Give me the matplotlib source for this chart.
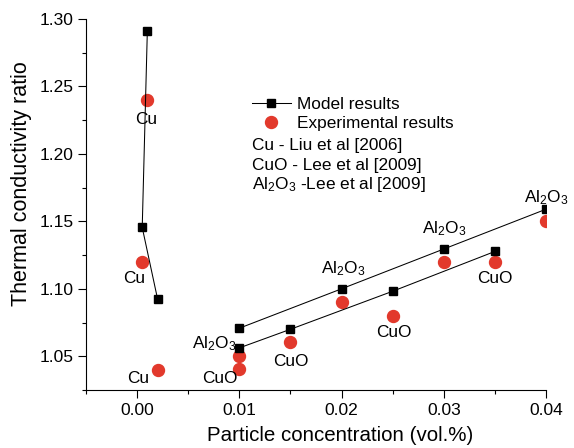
import matplotlib
matplotlib.use("Agg")
import matplotlib.pyplot as plt
from matplotlib.ticker import MultipleLocator, FormatStrFormatter

plt.rcParams['font.family'] = ['Liberation Sans', 'DejaVu Sans']
plt.rcParams['mathtext.fontset'] = 'custom'
plt.rcParams['mathtext.rm'] = 'Liberation Sans'
plt.rcParams['mathtext.it'] = 'Liberation Sans:italic'

# Model results
cu_model_x = [0.001, 0.0005, 0.002]
cu_model_y = [1.291, 1.1455, 1.0925]
al_model_x = [0.01, 0.02, 0.03, 0.04]
al_model_y = [1.0708, 1.100, 1.1295, 1.159]
cuo_model_x = [0.01, 0.015, 0.025, 0.035]
cuo_model_y = [1.0562, 1.070, 1.0982, 1.1277]

# Experimental results
cu_exp_x = [0.001, 0.0005, 0.002]
cu_exp_y = [1.24, 1.12, 1.04]
al_exp_x = [0.01, 0.02, 0.03, 0.04]
al_exp_y = [1.05, 1.09, 1.12, 1.15]
cuo_exp_x = [0.01, 0.015, 0.025, 0.035]
cuo_exp_y = [1.0404, 1.0604, 1.080, 1.12]

AL = r'Al$_2$O$_3$'
labels = [
    # (text, x, y, dx_px, dy_px)  baseline offsets in pixels
    ('Cu', cu_exp_x[0], cu_exp_y[0], -1, -24),
    ('Cu', cu_exp_x[1], cu_exp_y[1], -8, -21),
    ('Cu', cu_exp_x[2], cu_exp_y[2], -19, -13),
    (AL, cuo_model_x[0], cuo_model_y[0], -25, 0),
    ('CuO', cuo_exp_x[0], cuo_exp_y[0], -19, -14),
    ('CuO', cuo_exp_x[1], cuo_exp_y[1], 0, -24),
    (AL, al_model_x[1], al_model_y[1], 2, 16),
    ('CuO', cuo_exp_x[2], cuo_exp_y[2], 1, -21),
    (AL, al_model_x[2], al_model_y[2], 0, 16),
    ('CuO', cuo_exp_x[3], cuo_exp_y[3], 0, -21),
    (AL, al_model_x[3], al_model_y[3], 0, 7),
]

red = '#e2392c'
FS = 12.4
fig = plt.figure(figsize=(5.74, 4.48), dpi=100)
ax = fig.add_axes([86/574, 1-390/448, (546-86)/574, (390-19)/448])

line_kw = dict(color='black', lw=0.75, marker='s', markersize=5.2,
               markerfacecolor='black', markeredgecolor='black')
h_model, = ax.plot(cu_model_x, cu_model_y, **line_kw, zorder=3)
ax.plot(al_model_x, al_model_y, **line_kw, zorder=3)
ax.plot(cuo_model_x, cuo_model_y, **line_kw, zorder=3)

pt_kw = dict(linestyle='none', marker='o', markersize=8.6, color=red,
             markeredgecolor=red)
h_exp, = ax.plot(cu_exp_x, cu_exp_y, **pt_kw, zorder=2)
ax.plot(al_exp_x, al_exp_y, **pt_kw, zorder=2)
ax.plot(cuo_exp_x, cuo_exp_y, **pt_kw, zorder=2)

for t, x, y, dx, dy in labels:
    ax.annotate(t, xy=(x, y), xytext=(dx*0.72, dy*0.72),
                textcoords='offset points', ha='center', va='baseline',
                fontsize=FS, annotation_clip=False)

ax.set_xlim(-0.005, 0.04)
ax.set_ylim(1.025, 1.30)
ax.xaxis.set_major_locator(MultipleLocator(0.01))
ax.xaxis.set_minor_locator(MultipleLocator(0.005))
ax.yaxis.set_major_locator(MultipleLocator(0.05))
ax.yaxis.set_minor_locator(MultipleLocator(0.025))
ax.xaxis.set_major_formatter(FormatStrFormatter('%.2f'))
ax.yaxis.set_major_formatter(FormatStrFormatter('%.2f'))
ax.spines['top'].set_visible(False)
ax.spines['right'].set_visible(False)
ax.tick_params(which='major', direction='out', length=5.5, width=0.8,
               labelsize=12.5, pad=3.5)
ax.tick_params(which='minor', direction='out', length=3, width=0.8)
ax.set_xlabel('Particle concentration (vol.%)', fontsize=14.8)
ax.set_ylabel('Thermal conductivity ratio', fontsize=15.5)
ax.xaxis.set_label_coords(0.552, -0.097)
ax.yaxis.set_label_coords(-0.117, 0.555)

leg = ax.legend([h_model, h_exp], ['Model results', 'Experimental results'],
                loc='upper left', bbox_to_anchor=(252/574, 1-97/448),
                bbox_transform=fig.transFigure, frameon=False,
                fontsize=FS, handlelength=2.25, handletextpad=0.35,
                labelspacing=0.22, borderpad=0, borderaxespad=0)

extra = ['Cu - Liu et al [2006]', 'CuO - Lee et al [2009]',
         AL + ' -Lee et al [2009]']
for i, t in enumerate(extra):
    fig.text(252/574, 1-(149.5+20*i)/448, t, fontsize=FS, ha='left', va='baseline')

fig.savefig('out.png', dpi=100)
